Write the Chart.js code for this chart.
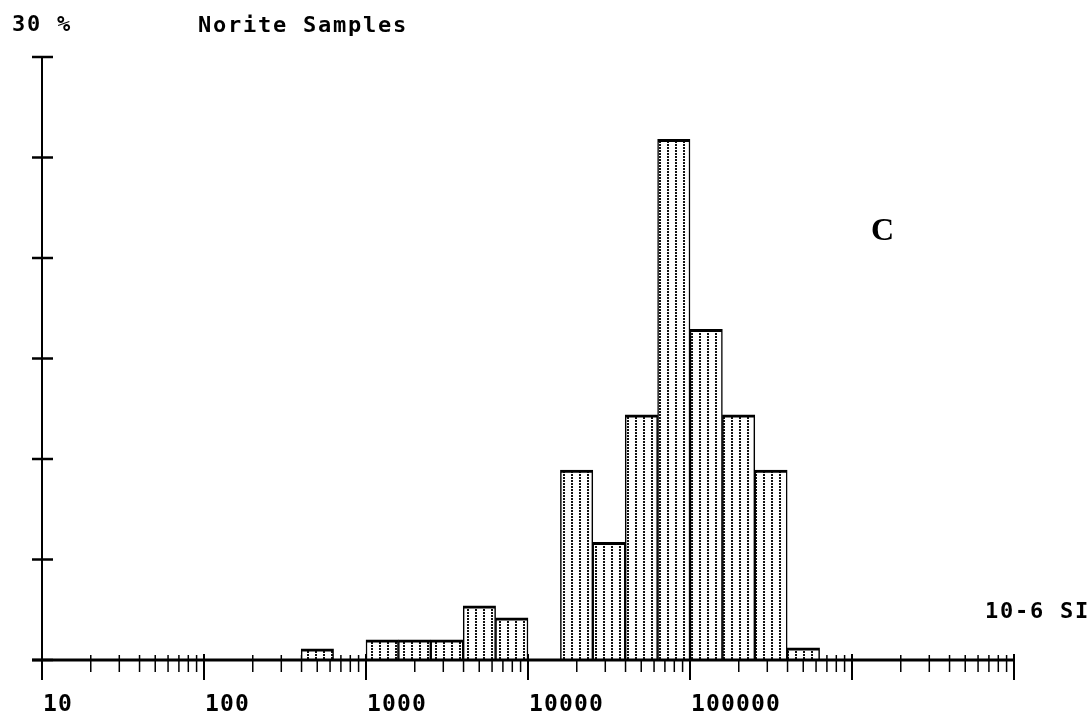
<!DOCTYPE html>
<html lang="en">
<head>
  <meta charset="UTF-8">
  <title>Norite Samples</title>
  <script src="https://cdn.jsdelivr.net/npm/chart.js@4.4.1/dist/chart.umd.min.js"></script>
  <style>
    body { margin: 0; background: #fff; overflow: hidden; }
    canvas { display: block; }
  </style>
</head>
<body>

<canvas id="histChart" width="1090" height="719"></canvas>

<script>
  // geometric centre of each 1/5-decade bin (10-6 SI)
  const binCentres = [501, 1259, 1995, 3162, 5012, 7943, 19953, 31623, 50119, 79433, 125893, 199526, 316228, 501187];
  // % of samples per bin
  const percentages = [0.55, 1.0, 1.0, 1.0, 2.7, 2.1, 9.45, 5.85, 12.2, 25.9, 16.45, 12.2, 9.45, 0.6];

  const decadeTicks = [10, 100, 1000, 10000, 100000, 1000000, 10000000];
  const minorSteps = [2, 3, 4, 5, 6, 7, 8, 9];
  const xTickLabels = ['10', '100', '1000', '10000', '100000'];
  const yTicks = [0, 5, 10, 15, 20, 25, 30];

  const monoFont = 'bold 23px "DejaVu Sans Mono", monospace';

  // old plotter text: fixed character pitch
  function monoText(ctx, str, x, y, pitch) {
    for (let i = 0; i < str.length; i++) {
      ctx.fillText(str[i], x + i * pitch, y);
    }
  }

  function seg(ctx, x1, y1, x2, y2) {
    ctx.beginPath();
    ctx.moveTo(x1, y1);
    ctx.lineTo(x2, y2);
    ctx.stroke();
  }

  function dotPattern() {
    let c = document.createElement('canvas');
    c.width = 8;
    c.height = 3;
    let g = c.getContext('2d');
    g.fillStyle = '#fff';
    g.fillRect(0, 0, 8, 3);
    g.fillStyle = '#111';
    g.fillRect(3, 0, 2, 2);
    return g.createPattern(c, 'repeat');
  }

  let axesPlugin = {
    id: 'oldAxes',
    beforeDatasetsDraw(chart) {
      let ctx = chart.ctx;
      let x = chart.scales.x, y = chart.scales.y;
      let base = y.getPixelForValue(0);
      ctx.save();
      ctx.strokeStyle = '#000';
      ctx.lineWidth = 1.5;
      // minor ticks (partly hidden by the bars)
      decadeTicks.slice(0, -1).forEach(function (d) {
        minorSteps.forEach(function (m) {
          let px = x.getPixelForValue(d * m);
          seg(ctx, px, base - 5, px, base + 12);
        });
      });
      ctx.restore();
    },
    afterDatasetsDraw(chart) {
      let ctx = chart.ctx;
      let x = chart.scales.x, y = chart.scales.y;
      let base = y.getPixelForValue(0);
      let left = x.getPixelForValue(decadeTicks[0]);
      let right = x.getPixelForValue(decadeTicks[decadeTicks.length - 1]);
      ctx.save();
      ctx.strokeStyle = '#000';

      // y axis + cross ticks
      ctx.lineWidth = 2;
      seg(ctx, left, y.getPixelForValue(30), left, base);
      ctx.lineWidth = 2.5;
      yTicks.forEach(function (v) {
        let py = y.getPixelForValue(v);
        seg(ctx, left - 10, py, left + 11, py);
      });

      // x axis
      ctx.lineWidth = 3;
      seg(ctx, left - 10, base, right, base);
      ctx.lineWidth = 2;
      decadeTicks.forEach(function (d) {
        let px = x.getPixelForValue(d);
        seg(ctx, px, base - 6, px, base + 20);
      });

      // texts
      ctx.fillStyle = '#000';
      ctx.font = monoFont;
      ctx.textAlign = 'left';
      ctx.textBaseline = 'middle';
      xTickLabels.forEach(function (lbl, i) {
        monoText(ctx, lbl, x.getPixelForValue(decadeTicks[i]) + 1, 705, 15);
      });
      ctx.font = 'bold 22px "DejaVu Sans Mono", monospace';
      monoText(ctx, '30 %', 12, 25, 15);
      monoText(ctx, 'Norite Samples', 198, 26, 15);
      monoText(ctx, '10-6 SI', 985, 612, 15);

      ctx.font = 'bold 32px "Liberation Serif", serif';
      ctx.fillText('C', 871, 232);
      ctx.restore();
    }
  };

  let ctx = document.getElementById('histChart').getContext('2d');
  let histChart = new Chart(ctx, {
    type: 'bar',
    data: {
      datasets: [{
        data: binCentres.map(function (c, i) { return {x: c, y: percentages[i]}; }),
        backgroundColor: dotPattern(),
        borderColor: '#000',
        borderWidth: {top: 3, left: 1.5, right: 1.5, bottom: 0},
        borderSkipped: 'start',
        barPercentage: 1,
        categoryPercentage: 1
      }]
    },
    options: {
      responsive: false,
      animation: false,
      devicePixelRatio: 1,
      layout: {
        padding: {left: 42, top: 57, right: 76, bottom: 59}
      },
      plugins: {
        legend: {display: false},
        tooltip: {enabled: false}
      },
      scales: {
        x: {
          type: 'logarithmic',
          min: 10,
          max: 10000000,
          display: false,
          // only decade ticks, so the bar width comes from the bin spacing
          afterBuildTicks: function (scale) {
            scale.ticks = decadeTicks.map(function (v) { return {value: v, major: true}; });
          }
        },
        y: {
          type: 'linear',
          min: 0,
          max: 30,
          display: false
        }
      }
    },
    plugins: [axesPlugin]
  });
</script>

</body>
</html>
